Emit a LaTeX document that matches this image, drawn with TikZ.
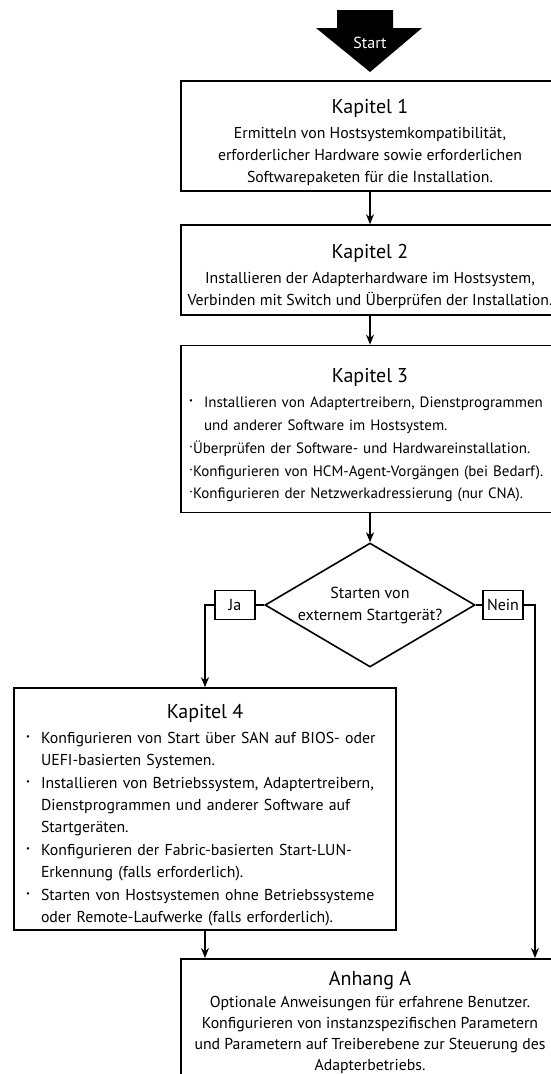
\documentclass[tikz,border=0pt]{standalone}
\usepackage{fontspec}
\setmainfont{PT Sans}
\usetikzlibrary{positioning,shapes.geometric,arrows.meta}
\tikzset{kbox/.style={draw,line width=1.6pt,inner xsep=4pt,inner ysep=0pt,
           font=\fontsize{15.8}{22}\selectfont},
	 sbox/.style={draw,line width=1.3pt,minimum width=40,minimum height=29,inner sep=0pt,
           font=\fontsize{16}{18}\selectfont},
	 conn/.style={line width=1.2pt,-{Stealth[length=10pt,width=8pt]}},
	 line/.style={line width=1.2pt}
	 }
\newcommand{\ktitel}[1]{{\fontsize{20}{24}\selectfont\rule{0pt}{27pt}#1}}
\newcommand{\kpunkt}[1][4pt]{\hspace*{#1}\makebox[15pt][l]{\raisebox{.5ex}{\fontsize{8.5}{8.5}\selectfont\textbullet}}}
\newcommand{\kweiter}[1][4pt]{\hspace*{\dimexpr #1+15pt\relax}}
\newcommand{\kdot}{\hspace*{4pt}\raisebox{.25ex}{·}}

\begin{document}
\begin{tikzpicture}[x=1pt,y=-1pt]
      \useasboundingbox (0,0) rectangle (551,1074);
      % Start
      \fill (337,10) -- (393,10) -- (393,28) -- (422,28) -- (370,72) -- (316,28) -- (337,28) -- cycle;
      \node[text=white,font=\fontsize{16}{18}\selectfont] (start) at (370,43) {Start};
      \node[kbox,align=center,minimum width=378,minimum height=110] (kap1) at (370,136)
        {\ktitel{Kapitel 1}\\[3pt]Ermitteln von Hostsystemkompatibilität,\\
         erforderlicher Hardware sowie erforderlichen\\Softwarepaketen für die Installation.};
      \node[kbox,align=center,minimum width=378,minimum height=90] (kap2) at (370,270)
        {\ktitel{Kapitel 2}\\[3pt]Installieren der Adapterhardware im Hostsystem,\\
         Verbinden mit Switch und Überprüfen der Installation.};
      \node[kbox,align=left,text width=370,minimum height=167,font=\fontsize{15}{22.8}\selectfont] (kap3) at (370,429)
        {\makebox[\linewidth]{\ktitel{Kapitel 3}}\\[2pt]
         \mbox{\kpunkt Installieren von Adaptertreibern, Dienstprogrammen}\\
         \mbox{\kweiter und anderer Software im Hostsystem.}\\
         \mbox{\kdot Überprüfen der Software- und Hardwareinstallation.}\\
         \mbox{\kdot Konfigurieren von HCM-Agent-Vorgängen (bei Bedarf).}\\
         \mbox{\kdot Konfigurieren der Netzwerkadressierung (nur CNA).}};
      \node[diamond,draw,line width=1.6pt,aspect=1.7,inner sep=0pt,minimum width=210,minimum height=124,
            align=center,font=\fontsize{16}{22}\selectfont] (frage) at (370,605)
        {Starten von\\externem Startgerät?};
      \node[sbox] (ja) at (235,605) {Ja};
      \node[sbox] (nein) at (503,605) {Nein};
      \node[kbox,align=left,text width=374,minimum height=242,font=\fontsize{15.8}{22.4}\selectfont] (kap4) at (205,809)
        {\makebox[\linewidth]{\ktitel{Kapitel 4}}\\[2pt]
         \kpunkt[8pt]Konfigurieren von Start über SAN auf BIOS- oder\\
         \kweiter[8pt]UEFI-basierten Systemen.\\
         \kpunkt[8pt]Installieren von Betriebssystem, Adaptertreibern,\\
         \kweiter[8pt]Dienstprogrammen und anderer Software auf\\
         \kweiter[8pt]Startgeräten.\\
         \kpunkt[8pt]Konfigurieren der Fabric-basierten Start-LUN-\\
         \kweiter[8pt]Erkennung (falls erforderlich).\\
         \kpunkt[8pt]Starten von Hostsystemen ohne Betriebssysteme\\
         \kweiter[8pt]oder Remote-Laufwerke (falls erforderlich).};
      \node[kbox,align=center,anchor=north,minimum width=378,inner ysep=0pt,font=\fontsize{15.8}{21}\selectfont] (anhA) at (370,958)
        {\ktitel{Anhang A}\\[1pt]Optionale Anweisungen für erfahrene Benutzer.\\
         Konfigurieren von instanzspezifischen Parametern\\
         und Parametern auf Treiberebene zur Steuerung des\\Adapterbetriebs.\\[8pt]};
      % Verbindungen
      \draw[conn] (kap1) -- (kap2);
      \draw[conn] (kap2) -- (kap3);
      \draw[conn] (kap3) -- (frage);
      \draw[line] (frage.west) -- (ja.east);
      \draw[line] (frage.east) -- (nein.west);
      \draw[conn] (ja.west) -| (kap4.north);
      \draw[conn] (nein.east) -| ([xshift=165pt]anhA.north);
      \draw[conn] (kap4.south) -- (kap4.south |- anhA.north);
  \end{tikzpicture}
\end{document}
